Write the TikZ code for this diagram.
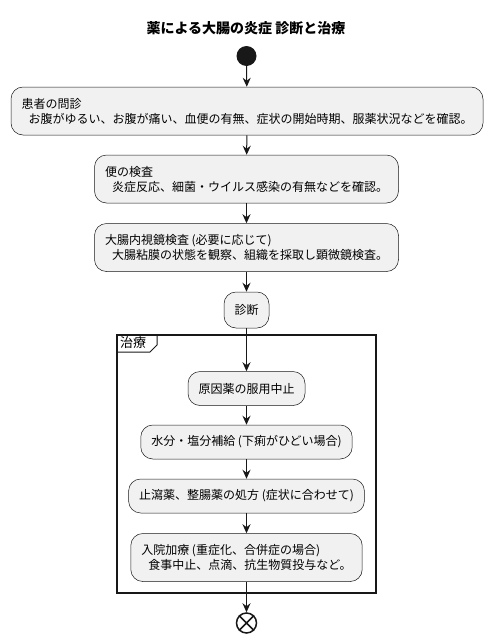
\documentclass[tikz,border=0pt]{standalone}
\usepackage{fontspec}
\setmainfont{Noto Sans CJK JP}
\usetikzlibrary{arrows.meta}
\definecolor{actfill}{HTML}{F1F1F1}
\definecolor{actline}{HTML}{181818}

\begin{document}
\begin{tikzpicture}[x=1pt, y=-1pt,
  act/.style={draw=actline, fill=actfill, line width=0.5pt, rounded corners=12pt,
    inner xsep=10.5pt, inner ysep=0pt, minimum height=34pt, align=left,
    font=\fontsize{12}{15}\selectfont},
  act2/.style={act, minimum height=48pt},
  flow/.style={draw=actline, line width=1pt, -{Stealth[length=9pt, width=8pt, inset=3pt]}}]
  \useasboundingbox (0,0) rectangle (492,643);
  \node (title) at (246, 28) {\fontsize{14}{16}\selectfont\bfseries 薬による大腸の炎症 診断と治療};
  \node[circle, fill=actline, minimum size=20pt, inner sep=0pt] (start) at (246.5, 56) {};
  \node[act2] (ask) at (247, 111) {患者の問診\\\hspace*{7pt}お腹がゆるい、お腹が痛い、血便の有無、症状の開始時期、服薬状況などを確認。};
  \node[act2] (stool) at (246.5, 179) {便の検査\\\hspace*{7pt}炎症反応、細菌・ウイルス感染の有無などを確認。};
  \node[act2] (scope) at (246.5, 247.5) {大腸内視鏡検査 (必要に応じて)\\\hspace*{7pt}大腸粘膜の状態を観察、組織を採取し顕微鏡検査。};
  \node[act, minimum height=36pt] (diag) at (246.5, 310) {診断};
  % frame of the treatment group
  \draw[actline, line width=1.5pt] (117, 335) rectangle (376, 593);
  \draw[actline, line width=1pt] (117, 352) -- (150, 352) -- (157, 345) -- (157, 335);
  \node[anchor=west, inner sep=0pt, font=\fontsize{13}{15}\selectfont] (group) at (120, 343) {治療};
  \node[act] (stopdrug) at (246.5, 388.5) {原因薬の服用中止};
  \node[act] (fluid) at (246.5, 442) {水分・塩分補給 (下痢がひどい場合)};
  \node[act] (drug) at (246.5, 496) {止瀉薬、整腸薬の処方 (症状に合わせて)};
  \node[act2] (hosp) at (246.5, 557.5) {入院加療 (重症化、合併症の場合)\\\hspace*{7pt}食事中止、点滴、抗生物質投与など。};
  \node[circle, draw=actline, line width=1.5pt, minimum size=20pt, inner sep=0pt] (stop) at (246.5, 623) {};
  \draw[actline, line width=1.5pt] (stop.45) -- (stop.225) (stop.135) -- (stop.-45);
  \draw[flow] (start) -- (ask);
  \draw[flow] (ask) -- (stool);
  \draw[flow] (stool) -- (scope);
  \draw[flow] (scope) -- (diag);
  \draw[flow] (diag) -- (stopdrug);
  \draw[flow] (stopdrug) -- (fluid);
  \draw[flow] (fluid) -- (drug);
  \draw[flow] (drug) -- (hosp);
  \draw[flow] (hosp) -- (stop);
\end{tikzpicture}
\end{document}
